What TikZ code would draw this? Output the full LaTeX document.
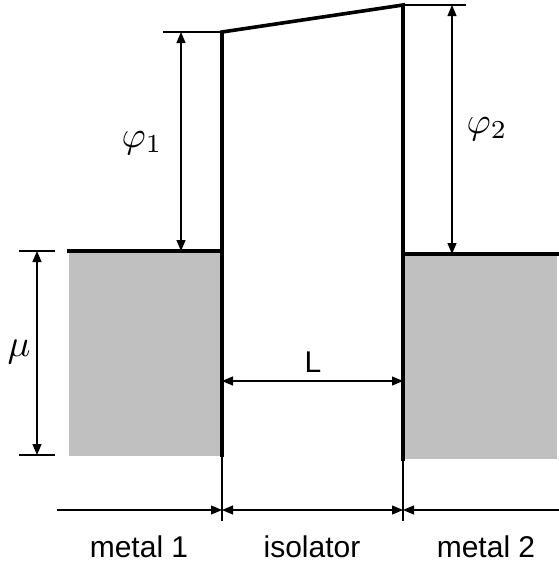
\documentclass[tikz,border=0pt]{standalone}
\usepackage{fontspec}
\setmainfont{Liberation Sans}
\usetikzlibrary{arrows.meta}
\definecolor{metalgray}{HTML}{C0C0C0}
\tikzset{
  wall/.style={line width=3.6pt,line cap=rect},
  thinl/.style={line width=1.2pt},
  dim/.style={line width=1.2pt,{Triangle[length=11pt,width=9pt]}-{Triangle[length=11pt,width=9pt]}},
  dimend/.style={line width=1.2pt,-{Triangle[length=11pt,width=9pt]}},
  lbl/.style={font=\fontsize{30}{34}\selectfont,inner sep=0pt,anchor=base},
  sym/.style={inner sep=0pt}
}
\begin{document}
\begin{tikzpicture}[x=1pt,y=-1pt]
\useasboundingbox (0,0) rectangle (559,568);
% key points
\coordinate (LT) at (222,32);
\coordinate (LB) at (222,455);
\coordinate (RT) at (403,5);
\coordinate (RB) at (403,459);
\coordinate (LM) at (222,251);
\coordinate (RM) at (403,254);
% metals
\fill[metalgray] (69,251) rectangle (222,456);
\fill[metalgray] (403,254) rectangle (557,459);
% extension lines
\coordinate (e1a) at (163,32);
\coordinate (e2b) at (466,5);
\coordinate (m1a) at (19,251);
\coordinate (m1b) at (55,251);
\coordinate (m2a) at (19,455);
\coordinate (m2b) at (55,455);
\coordinate (LX) at (222,521);
\coordinate (RX) at (403,521);
\draw[thinl] (e1a) -- (LT);
\draw[thinl] (RT) -- (e2b);
\draw[thinl] (m1a) -- (m1b);
\draw[thinl] (m2a) -- (m2b);
\draw[thinl] (LB) -- (LX);
\draw[thinl] (RB) -- (RX);
% thick band lines
\draw[wall] (69,251) -- (LM);
\draw[wall] (RM) -- (557,254);
\draw[wall] (LB) -- (LT) -- (RT) -- (RB);
% dimension arrows
\coordinate (p1a) at (181,32);
\coordinate (p1b) at (181,251);
\coordinate (p2a) at (452,5);
\coordinate (p2b) at (452,254);
\coordinate (mua) at (37,251);
\coordinate (mub) at (37,455);
\coordinate (La) at (222,381);
\coordinate (Lb) at (403,381);
\draw[dim] (p1a) -- (p1b);
\draw[dim] (p2a) -- (p2b);
\draw[dim] (mua) -- (mub);
\draw[dim] (La) -- (Lb);
% bottom axis
\coordinate (b0) at (57,510);
\coordinate (b1) at (222,510);
\coordinate (b2) at (403,510);
\coordinate (b3) at (559,510);
\draw[dimend] (b0) -- (b1);
\draw[dim] (b1) -- (b2);
\draw[dimend] (b3) -- (b2);
% labels
\node[sym] (phi1) at (142,143) {\scalebox{3.7}{$\varphi_1$}};
\node[sym] (phi2) at (487,129) {\scalebox{3.7}{$\varphi_2$}};
\node[sym] (mu) at (19,352) {\scalebox{3.8}{$\mu$}};
\node[lbl] (L) at (313,372) {L};
\node[lbl] (m1) at (139,557) {metal 1};
\node[lbl] (iso) at (312,557) {isolator};
\node[lbl] (m2) at (486,557) {metal 2};
\end{tikzpicture}
\end{document}
